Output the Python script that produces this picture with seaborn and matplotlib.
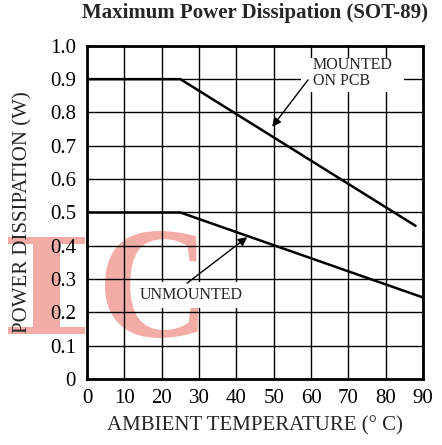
import matplotlib
matplotlib.use("Agg")
import matplotlib.pyplot as plt
import seaborn as sns
import pandas as pd
from matplotlib.textpath import TextPath
from matplotlib.patches import PathPatch, Rectangle
from matplotlib.font_manager import FontProperties
from matplotlib.transforms import Affine2D

# curve data
temp_mounted = [0, 25, 88]
pd_mounted = [0.90, 0.90, 0.46]
temp_unmounted = [0, 25, 90]
pd_unmounted = [0.50, 0.50, 0.245]

x_ticks = [0, 10, 20, 30, 40, 50, 60, 70, 80, 90]
y_ticks = [0, 0.1, 0.2, 0.3, 0.4, 0.5, 0.6, 0.7, 0.8, 0.9, 1.0]
y_labels = ["0", "0.1", "0.2", "0.3", "0.4", "0.5", "0.6", "0.7", "0.8", "0.9", "1.0"]

df = pd.concat([
    pd.DataFrame({"temp": temp_mounted, "pd": pd_mounted, "curve": "mounted"}),
    pd.DataFrame({"temp": temp_unmounted, "pd": pd_unmounted, "curve": "unmounted"}),
])

sns.set_style("white")
plt.rcParams["font.family"] = ["Liberation Serif", "DejaVu Serif"]

W, H = 442, 445
fig = plt.figure(figsize=(W / 100, H / 100), dpi=100)
ax = fig.add_axes([0.197, 0.148, 0.76, 0.749])
ax.patch.set_alpha(0)


def watermark(ch, family, weight, box, color="#f4aca6"):
    # fit a glyph outline into a pixel box (left, top, right, bottom)
    tp = TextPath((0, 0), ch, size=100, prop=FontProperties(family=family, weight=weight))
    ext = tp.get_extents()
    l, t, r, b = box
    sx = (r - l) / ext.width / W
    sy = (b - t) / ext.height / H
    tr = (Affine2D().translate(-ext.x0, -ext.y0).scale(sx, sy)
          .translate(l / W, 1 - b / H) + fig.transFigure)
    fig.add_artist(PathPatch(tp, transform=tr, fc=color, ec="none", zorder=-1))


watermark("I", "DejaVu Serif", "normal", (8, 237, 85, 334))
watermark("C", "Liberation Serif", "bold", (105, 231, 198, 338))

sns.lineplot(data=df, x="temp", y="pd", hue="curve", palette=["black", "black"],
             linewidth=1.8, legend=False, ax=ax, zorder=3)

ax.set_xlim(0, 90)
ax.set_ylim(0, 1.0)
ax.set_xticks(x_ticks)
ax.set_yticks(y_ticks)
ax.set_yticklabels(y_labels)
ax.grid(True, color="black", linewidth=1.0)
ax.tick_params(length=0, labelsize=15, colors="black")
ax.tick_params(axis="x", pad=7)
ax.tick_params(axis="y", pad=8)
for s in ax.spines.values():
    s.set_linewidth(2)
    s.set_color("black")

ax.set_xlabel("AMBIENT TEMPERATURE (° C)", fontsize=15)
ax.set_ylabel("POWER DISSIPATION (W)", fontsize=15)
ax.xaxis.set_label_coords(0.5, -0.11)
ax.yaxis.set_label_coords(-0.163, 0.5)
fig.text(0.577, 0.96, "Maximum Power Dissipation (SOT-89)", fontsize=15,
         fontweight="bold", ha="center", va="baseline")

# labels with white areas hiding the grid
ax.add_patch(Rectangle((57.2, 0.86), 27.6, 0.105, fc="white", ec="none", zorder=2.5))
ax.text(60.5, 0.87, "MOUNTED\nON PCB", fontsize=11.5, ha="left", va="bottom",
        linespacing=1.0, zorder=4)
ax.text(28, 0.252, "UNMOUNTED", fontsize=11.5, ha="center", va="center", zorder=4,
        bbox=dict(boxstyle="square,pad=0.3", fc="white", ec="none"))

arrow = dict(arrowstyle="-|>", color="black", lw=1, shrinkA=0, shrinkB=0,
             mutation_scale=13)
ax.annotate("", xy=(49.6, 0.757), xytext=(59.2, 0.898), arrowprops=arrow, zorder=5)
ax.annotate("", xy=(42.9, 0.426), xytext=(26.8, 0.288), arrowprops=arrow, zorder=5)

fig.savefig("out.png", dpi=100)
